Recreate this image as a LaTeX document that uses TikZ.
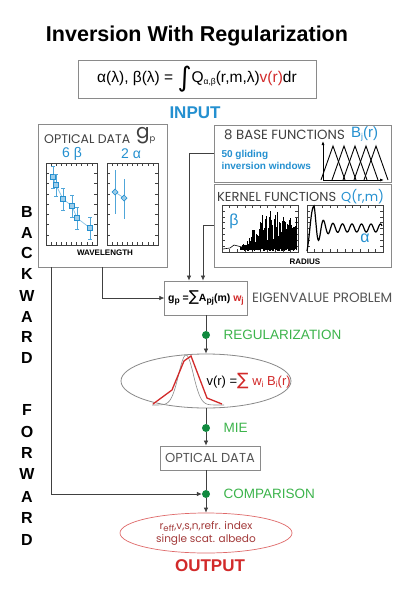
\documentclass[tikz,border=0pt]{standalone}
\usepackage{fontspec}
\setmainfont{Liberation Sans}
\newfontfamily\gothfont{Poppins}
\newfontfamily\symfont{DejaVu Sans}
\usetikzlibrary{arrows.meta,positioning,shapes.geometric}
\definecolor{invBlue}{HTML}{2490D0}
\definecolor{invGreen}{HTML}{3CB44B}
\definecolor{invDot}{HTML}{118A3F}
\definecolor{invRed}{HTML}{D22A2A}
\definecolor{invDarkRed}{HTML}{A33A3A}
\definecolor{invGray}{HTML}{8A8A8A}
\definecolor{invText}{HTML}{555555}
\newcommand{\sbx}[1]{\raisebox{-2.5pt}{\fontsize{8.5}{9}\selectfont #1}}
\newcommand{\tickframe}[4]{%
  \draw[plotframe] (#1,#2) rectangle (#3,#4);
  \foreach \tx in {0.1,0.2,...,0.95} {
    \draw[plotframe] ({#1+\tx*(#3-#1)},#4) -- ++(0,-3);
    \draw[plotframe] ({#1+\tx*(#3-#1)},#2) -- ++(0,3);
  }
  \foreach \ty in {0.125,0.25,...,0.9} {
    \draw[plotframe] (#1,{#2+\ty*(#4-#2)}) -- ++(3,0);
    \draw[plotframe] (#3,{#2+\ty*(#4-#2)}) -- ++(-3,0);
  }}
\tikzset{
  framebox/.style={rectangle,draw=invGray,line width=0.9pt,fill=white},
  plotframe/.style={draw=black!75,line width=0.5pt},
  flowline/.style={draw=black!75,line width=0.7pt},
  arrow/.style={flowline,-{Latex[length=5pt,width=4.5pt]}},
  stepdot/.style={circle,fill=invDot,inner sep=0pt,minimum size=8pt},
  steplabel/.style={font=\fontsize{13.5}{15}\selectfont,text=invGreen},
  gothlabel/.style={font=\gothfont\fontsize{13}{15}\selectfont,text=invText},
  sidelabel/.style={font=\bfseries\fontsize{16}{16}\selectfont},
  errbar/.style={draw=invBlue!80,line width=0.6pt}
}
\begin{document}
\begin{tikzpicture}[x=1pt,y=-1pt]
  \fill[white] (0,0) rectangle (415,600);
  \useasboundingbox (0,0) rectangle (415,600);

  % header
  \node[font=\bfseries\fontsize{21.5}{24}\selectfont] (title) at (197,36) {Inversion With Regularization};
  \node[framebox,minimum width=238pt,minimum height=38pt,font=\fontsize{15.5}{17}\selectfont] (formula) at (197,79)
    {α(λ), β(λ) = \raisebox{-4pt}{\symfont\fontsize{27}{27}\selectfont ∫}Q\sbx{α,β}(r,m,λ)\textcolor{invRed}{v(r)}dr};
  \node[font=\bfseries\fontsize{17}{18}\selectfont,text=invBlue] (input) at (195,113) {INPUT};

  % optical data
  \node[framebox,minimum width=129pt,minimum height=143pt] (optbox) at (102.5,195.5) {};
  \node[gothlabel,font=\gothfont\fontsize{12.5}{13}\selectfont,anchor=west,text=black!75,inner sep=1pt] (optlabel) at (43,139) {OPTICAL DATA};
  \node[gothlabel,font=\gothfont\fontsize{20}{21}\selectfont,anchor=west,text=black!75,inner sep=1pt] (gp) at (135,136) {g\sbx{p}};
  \node[font=\fontsize{14}{15}\selectfont,text=invBlue,inner sep=1pt] (beta6) at (72,154) {6 β};
  \node[font=\fontsize{14}{15}\selectfont,text=invBlue,inner sep=1pt] (alpha2) at (131,154) {2 α};
  \tickframe{46}{163}{97}{245}
  \tickframe{107}{163}{158}{245}
  \draw[invBlue!55,line width=0.7pt] (53,177) -- (56,185) -- (63,199) -- (72,206) -- (77,218) -- (90,228);
  \foreach \px/\py in {53/177,56/185,63/199,72/206,77/218,90/228} {
    \draw[errbar] (\px,\py-11) -- (\px,\py+11);
    \draw[errbar] (\px-2,\py-11) -- (\px+2,\py-11);
    \draw[errbar] (\px-2,\py+11) -- (\px+2,\py+11);
    \filldraw[draw=invBlue,fill=invBlue!45,line width=0.7pt] (\px-2.5,\py-2.5) rectangle (\px+2.5,\py+2.5);
  }
  \draw[invBlue!55,line width=0.7pt] (115,192) -- (124,198);
  \foreach \px/\py/\lo/\hi in {115/192/170/214,124/198/179/219} {
    \draw[errbar] (\px,\lo) -- (\px,\hi);
    \filldraw[draw=invBlue,fill=invBlue!45,line width=0.7pt] (\px,\py-3) -- (\px+3,\py) -- (\px,\py+3) -- (\px-3,\py) -- cycle;
  }
  \node[font=\bfseries\fontsize{8}{9}\selectfont] (wavelength) at (105,253) {WAVELENGTH};

  % base functions
  \node[framebox,minimum width=177pt,minimum height=57pt] (basebox) at (302.5,153.5) {};
  \node[gothlabel,font=\gothfont\fontsize{13.3}{15}\selectfont,anchor=west,text=black!75,inner sep=1pt] (baselabel) at (223,135) {8 BASE FUNCTIONS};
  \node[font=\fontsize{15}{16}\selectfont,text=invBlue,anchor=west,inner sep=1pt] (bj) at (350,134) {B\sbx{j}(r)};
  \node[font=\bfseries\fontsize{10}{12}\selectfont,text=invBlue,anchor=west,align=left] (gliding) at (218,160)
    {50 gliding\\inversion windows};
  \draw[line width=0.8pt,-{Latex[length=4pt,width=3pt]}] (323,180) -- (323,141);
  \draw[line width=0.8pt,-{Latex[length=4pt,width=3pt]}] (323,180) -- (384,180);
  \foreach \pk in {333,344,355,366,376} {
    \draw[line width=0.9pt] (\pk-12,180) -- (\pk,146) -- (\pk+12,180);
  }

  % kernel functions
  \node[framebox,minimum width=177pt,minimum height=83pt] (kernbox) at (302.5,225.5) {};
  \node[gothlabel,font=\gothfont\fontsize{13}{15}\selectfont,anchor=west,text=black!75,inner sep=1pt] (kernlabel) at (216,197) {KERNEL FUNCTIONS};
  \node[gothlabel,font=\gothfont\fontsize{13}{15}\selectfont,anchor=west,text=invBlue,inner sep=1pt] (qrm) at (340,197) {Q(r,m)};
  \tickframe{222}{205}{298}{252}
  \tickframe{307}{205}{383}{252}
  \draw[line width=0.6pt] (223,249) -- (230,248) -- (234,245) -- (238,246) -- (242,247);
  \pgfmathsetseed{11}
  \foreach \x in {240,240.7,...,297} {
    \draw[line width=0.9pt] (\x,{251-2*rnd}) -- (\x,{248-min(1,(\x-240)/25)*(8+30*rnd)});
  }
  \draw[line width=1.2pt] (307,251) .. controls (310,235) and (311,206) .. (314,206)
    -- plot[domain=314:382,samples=120,smooth] (\x,{228-(4+18*exp(-(\x-314)/6))*cos(deg((\x-314)*2*pi/9.5))});
  \node[font=\fontsize{16}{17}\selectfont,text=invBlue] (betak) at (234,221) {β};
  \node[font=\fontsize{16}{17}\selectfont,text=invBlue] (alphak) at (365,238) {α};
  \node[font=\bfseries\fontsize{8}{9}\selectfont] (radius) at (305,262) {RADIUS};

  % inversion chain
  \node[framebox,minimum width=82pt,minimum height=34pt,font=\bfseries\fontsize{10.5}{12}\selectfont] (eigen) at (206,298)
    {g\sbx{p} ={\mdseries\symfont\fontsize{15}{15}\selectfont ∑}A\sbx{pj}(m) \textcolor{invRed}{w\sbx{j}}};
  \node[gothlabel,font=\gothfont\fontsize{13.5}{15}\selectfont,right=1pt of eigen] (eigenlabel) {EIGENVALUE PROBLEM};
  \node[stepdot] (dotreg) at (206,335) {};
  \node[steplabel,right=10pt of dotreg] (reglabel) {REGULARIZATION};
  \node[ellipse,draw=invGray,line width=0.8pt,minimum width=170pt,minimum height=54pt] (dist) at (206,381) {};
  \draw[black!45,line width=0.6pt] plot[domain=152:224,samples=60,smooth] (\x,{405-50*exp(-((\x-186)^2)/110)});
  \draw[invRed,line width=1.3pt] (153,404) -- (172,390) -- (184,361) -- (191,356) -- (207,398) -- (222,404);
  \node[anchor=west,font=\fontsize{13}{15}\selectfont] (vr) at (203,381)
    {v(r) =\textcolor{invRed}{{\symfont\fontsize{17}{17}\selectfont ∑} w\sbx{i} B\sbx{i}(r)}};
  \node[stepdot] (dotmie) at (206,428) {};
  \node[steplabel,right=10pt of dotmie] (mielabel) {MIE};
  \node[framebox,minimum width=100pt,minimum height=24pt,gothlabel] (optdata) at (210,458) {OPTICAL DATA};
  \node[stepdot] (dotcmp) at (206,494) {};
  \node[steplabel,right=10pt of dotcmp] (cmplabel) {COMPARISON};
  \node[ellipse,draw=invRed!70,line width=0.7pt,minimum width=172pt,minimum height=40pt,align=center,
    font=\gothfont\fontsize{10.5}{13}\selectfont,text=invDarkRed,inner sep=0pt] (result) at (206,533)
    {r\sbx{eff},v,s,n,refr. index\\single scat. albedo};
  \node[font=\bfseries\fontsize{17}{18}\selectfont,text=invRed] (output) at (210,566) {OUTPUT};

  % backward / forward
  \foreach \ch/\y in {B/212,A/233,C/253,K/274,W/296,A/317,R/337,D/358,F/410,O/432,R/453,W/474,A/497,R/518,D/540} {
    \node[sidelabel] (side\y) at (27,\y) {\ch};
  }

  % connectors
  \coordinate (optleft) at (51,267);
  \coordinate (basein) at (189,298);
  \draw[arrow] (basebox.west) -| (basein |- eigen.north);
  \draw[arrow] (kernbox.west) -| ([xshift=-3pt]eigen.north);
  \draw[arrow] (optbox.south) |- (eigen.west);
  \draw[flowline] (eigen.south) -- (dotreg);
  \draw[arrow] (dotreg) -- (dist.north);
  \draw[flowline] (dist.south) -- (dotmie);
  \draw[arrow] (dotmie) -- (dotmie |- optdata.north);
  \draw[flowline] (dotmie |- optdata.south) -- (dotcmp);
  \draw[arrow] (optleft) |- (dotcmp);
  \draw[arrow] (dotcmp) -- (result.north);
\end{tikzpicture}
\end{document}
